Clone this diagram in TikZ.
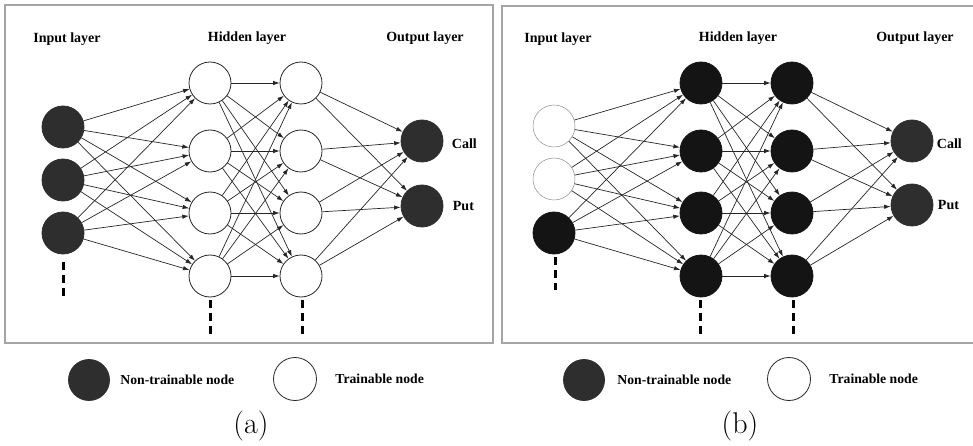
\documentclass[tikz,border=0pt]{standalone}
\usepackage{fontspec}
\newfontfamily\timesfont{Liberation Serif}
\usetikzlibrary{arrows.meta,positioning}

\definecolor{darknode}{RGB}{46,46,46}
\definecolor{blacknode}{RGB}{20,20,20}
\definecolor{framegray}{RGB}{165,165,165}

\tikzstyle{neuron} = [circle, draw, minimum size=42pt, inner sep=0pt, line width=0.8pt]
\tikzstyle{fixed} = [neuron, fill=darknode, draw=darknode]
\tikzstyle{fixedblack} = [neuron, fill=blacknode, draw=blacknode]
\tikzstyle{free} = [neuron, fill=white, draw=black!85]
\tikzstyle{freethin} = [neuron, fill=white, draw=black!45, line width=0.5pt]
\tikzstyle{link} = [-{Latex[length=6.5pt,width=4.5pt]}, line width=0.7pt, draw=black!85]
\tikzstyle{layer} = [font=\timesfont\fontsize{14}{16}\selectfont\bfseries]
\tikzstyle{legend} = [font=\timesfont\fontsize{13.7}{16}\selectfont\bfseries]
\tikzstyle{more} = [line width=3pt, dash pattern=on 8pt off 5pt]
\tikzstyle{frame} = [draw=framegray, line width=1.2pt]
\tikzstyle{caption} = [font=\fontsize{30}{34}\selectfont]

\begin{document}
\begin{tikzpicture}[x=1pt, y=-1pt]
\useasboundingbox (0,0) rectangle (973,446);
% Frames
\draw[frame] (5,5) rectangle (493,343);
\draw[frame] (973,6) -- (502,6) -- (502,343) -- (973,343);

% Panel (a)
\node[layer] (a-tin) at (67,39) {Input layer};
\node[layer] (a-thid) at (247,38) {Hidden layer};
\node[layer] (a-tout) at (425,38) {Output layer};
\foreach \y [count=\i] in {127,180,233}
  \node[fixed] (a-i\i) at (63,\y) {};
\foreach \y [count=\i] in {83,151,213,276} {
  \node[free] (a-h\i) at (210,\y) {};
  \node[free] (a-g\i) at (301,\y) {};
}
\node[fixed] (a-o1) at (422,141) {};
\node[fixed] (a-o2) at (422,206) {};
\node[layer, right=5pt of a-o1, yshift=-3pt] (a-call) {Call};
\node[layer, right=6pt of a-o2] (a-put) {Put};
% Paths
\foreach \i in {1,2,3} \foreach \j in {1,...,4} \draw[link] (a-i\i) -- (a-h\j);
\foreach \i in {1,...,4} \foreach \j in {1,...,4} \draw[link] (a-h\i) -- (a-g\j);
\foreach \i in {1,...,4} \foreach \j in {1,2} \draw[link] (a-g\i) -- (a-o\j);
\draw[more] (63,262) -- (63,297);
\draw[more] (210,300) -- (210,338);
\draw[more] (302,300) -- (302,338);
% Legend
\node[fixed, minimum size=41pt] (a-lgfix) at (89,380) {};
\node[legend, right=7pt of a-lgfix] (a-txfix) {Non-trainable node};
\node[free, minimum size=43pt] (a-lgfree) at (295,379) {};
\node[legend, right=15pt of a-lgfree] (a-txfree) {Trainable node};
\node[caption] (a-cap) at (251,426) {(a)};

% Panel (b)
\node[layer] (b-tin) at (558,39) {Input layer};
\node[layer] (b-thid) at (738,38) {Hidden layer};
\node[layer] (b-tout) at (915,38) {Output layer};
\node[freethin] (b-i1) at (554,126) {};
\node[freethin] (b-i2) at (554,179) {};
\node[fixedblack] (b-i3) at (554,233) {};
\foreach \y [count=\i] in {83,151,213,276} {
  \node[fixedblack] (b-h\i) at (701,\y) {};
  \node[fixedblack] (b-g\i) at (792,\y) {};
}
\node[fixed] (b-o1) at (912,141) {};
\node[fixed] (b-o2) at (912,205) {};
\node[layer, right=0pt of b-o1, yshift=-3pt] (b-call) {Call};
\node[layer, right=1pt of b-o2] (b-put) {Put};
% Paths
\foreach \i in {1,2,3} \foreach \j in {1,...,4} \draw[link] (b-i\i) -- (b-h\j);
\foreach \i in {1,...,4} \foreach \j in {1,...,4} \draw[link] (b-h\i) -- (b-g\j);
\foreach \i in {1,...,4} \foreach \j in {1,2} \draw[link] (b-g\i) -- (b-o\j);
\draw[more] (555,257) -- (555,290);
\draw[more] (700,300) -- (700,337);
\draw[more] (793,300) -- (793,337);
% Legend
\node[fixed, minimum size=41pt] (b-lgfix) at (584,380) {};
\node[legend, right=9pt of b-lgfix] (b-txfix) {Non-trainable node};
\node[free, minimum size=43pt] (b-lgfree) at (789,379) {};
\node[legend, right=15pt of b-lgfree] (b-txfree) {Trainable node};
\node[caption] (b-cap) at (740,426) {(b)};
\end{tikzpicture}
\end{document}
